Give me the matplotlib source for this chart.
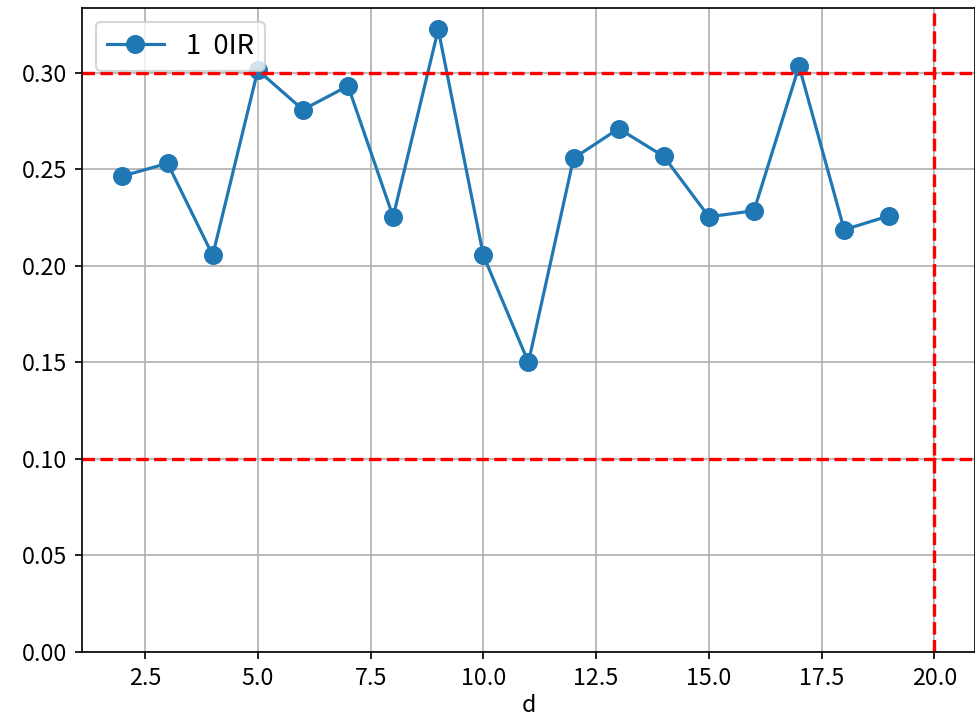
import numpy as np
import matplotlib
matplotlib.use("Agg")
import matplotlib.pyplot as plt

plt.rcParams['font.family'] = ['Noto Sans CJK JP', 'DejaVu Sans']

# d values and the measured series
d = [2, 3, 4, 5, 6, 7, 8, 9, 10, 11, 12, 13, 14, 15, 16, 17, 18, 19]
vals = [0.2466, 0.2532, 0.2055, 0.3015, 0.2810, 0.2933, 0.2255, 0.3226, 0.2055,
        0.1500, 0.2558, 0.2712, 0.2568, 0.2255, 0.2286, 0.3036, 0.2188, 0.2260]
series_label = "1  0IR"
hlines = [0.1, 0.3]
vline = 20

fig = plt.figure(figsize=(975 / 152, 725 / 152), dpi=152)
ax = fig.add_axes([0.084, 0.101, 0.916, 0.888])

ax.plot(d, vals, marker='o', markersize=8, label=series_label)
for h in hlines:
    ax.axhline(h, color='red', linestyle='--', lw=1.6)
ax.axvline(vline, color='red', linestyle='--', lw=1.6)

ax.set_ylim(bottom=0)
ax.set_xlabel('d', fontsize=11, labelpad=2)
ax.tick_params(labelsize=11)
ax.grid(True)
ax.legend(loc='upper left', fontsize=13, handlelength=2.1)

fig.savefig('out.png', dpi=152)
